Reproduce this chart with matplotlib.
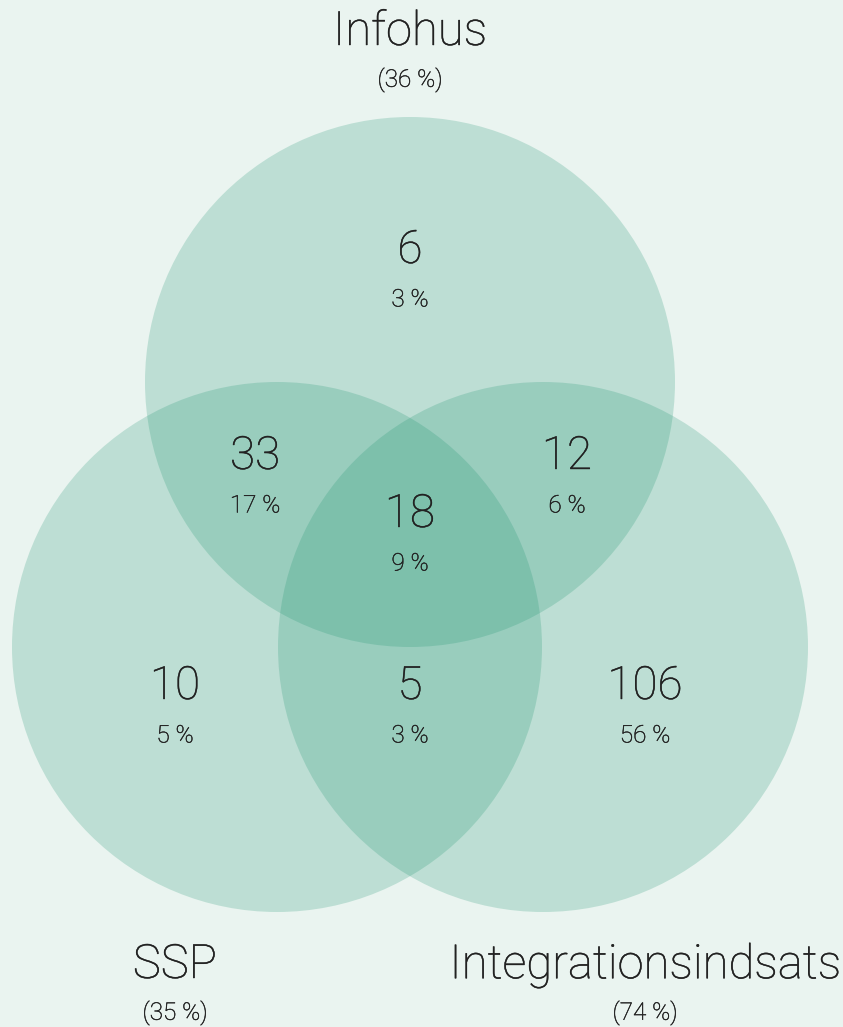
import matplotlib.pyplot as plt
import matplotlib.patheffects as pe
from matplotlib.patches import Circle

# data
set_names = ["Infohus", "SSP", "Integrationsindsats"]
set_shares = [36, 35, 74]
region_names = ["Infohus", "Infohus+SSP", "Infohus+Integration", "Alle tre",
                "SSP", "SSP+Integration", "Integration"]
region_counts = [6, 33, 12, 18, 10, 5, 106]
region_shares = [3, 17, 6, 9, 5, 3, 56]

# layout (pixel coords, y down)
W, H = 843, 1027
circle_centers = [(410, 382), (277, 647), (543, 647)]
radius = 265
region_pos = [(410, 250), (255, 456), (567, 456), (410, 514),
              (175, 686), (410, 686), (645, 686)]
label_pos = [(410, 32), (175, 965), (645, 965)]

bg = "#eaf4f0"
fill = "#16906c"
txt = "#222222"
font = "Roboto"
thick = [pe.withStroke(linewidth=0.3, foreground=txt)]
thin = [pe.withStroke(linewidth=0.3, foreground=txt)]

fig = plt.figure(figsize=(W / 100, H / 100), dpi=100, facecolor=bg)
ax = fig.add_axes([0, 0, 1, 1])
ax.set_xlim(0, W)
ax.set_ylim(H, 0)
ax.set_facecolor(bg)
ax.axis("off")

for (cx, cy) in circle_centers:
    ax.add_patch(Circle((cx, cy), radius, facecolor=fill, alpha=0.21, lw=0))

for (x, y), n, p in zip(region_pos, region_counts, region_shares):
    ax.text(x, y, str(n), ha="center", va="center", fontsize=33,
            family=font, fontweight="light", color=txt, path_effects=thick)
    ax.text(x, y + 50, f"{p} %", ha="center", va="center", fontsize=17.5,
            family=font, fontweight="light", color=txt, path_effects=thin)

for (x, y), name, s in zip(label_pos, set_names, set_shares):
    ax.text(x, y, name, ha="center", va="center", fontsize=34,
            family=font, fontweight="light", color=txt, path_effects=thick)
    ax.text(x, y + 48, f"({s} %)", ha="center", va="center", fontsize=17.5,
            family=font, fontweight="light", color=txt, path_effects=thin)

fig.savefig("out.png", dpi=100, facecolor=bg)
